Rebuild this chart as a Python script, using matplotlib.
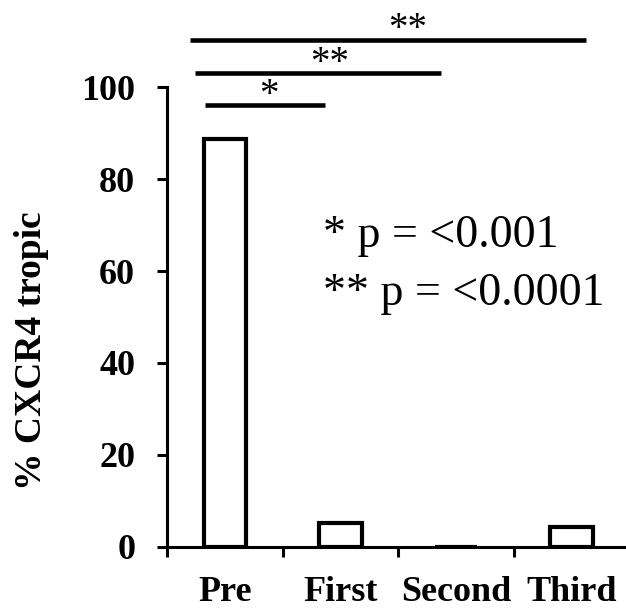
import numpy as np
import matplotlib.pyplot as plt

# data
groups = ['Pre', 'First', 'Second', 'Third']
pct_x4 = [88.8, 5.3, 0.0, 4.4]

# significance brackets: (x start, x end, y, label)
sig_x0 = [-0.17, -0.26, -0.30]
sig_x1 = [0.87, 1.87, 3.13]
sig_y = [96.0, 103.0, 110.3]
sig_lab = ['*', '**', '**']
sig_lab_x = [0.38, 0.91, 1.58]

plt.rcParams['font.family'] = ['Liberation Serif', 'DejaVu Serif']

fig = plt.figure(figsize=(6.26, 6.09), dpi=100)
ax = fig.add_axes([0.267, 0.102, 0.738, 0.755])

x = np.arange(len(groups))
ax.bar(x, pct_x4, width=0.37, color='white', edgecolor='black', linewidth=3.0, zorder=3)

for x0, x1, y in zip(sig_x0, sig_x1, sig_y):
    ax.plot([x0, x1], [y, y], color='black', lw=3.3, clip_on=False, solid_capstyle='butt')
for lx, y, s in zip(sig_lab_x, sig_y, sig_lab):
    ax.text(lx, y - 1.8, s, ha='center', va='bottom', fontsize=28, clip_on=False)

ax.text(0.338, 0.652, '* p = <0.001', transform=ax.transAxes, fontsize=33, ha='left', va='baseline')
ax.text(0.338, 0.526, '** p = <0.0001', transform=ax.transAxes, fontsize=33, ha='left', va='baseline')

ax.set_xlim(-0.5, 3.5)
ax.set_ylim(0, 100)
for s in ['top', 'right']:
    ax.spines[s].set_visible(False)
for s in ['left', 'bottom']:
    ax.spines[s].set_linewidth(2.2)

ax.set_yticks([0, 20, 40, 60, 80, 100])
ax.tick_params(axis='y', direction='out', length=7, width=2.2, pad=16, labelsize=26)
for t in ax.get_yticklabels():
    t.set_fontweight('bold')

ax.set_xticks(x)
ax.set_xticklabels(groups, fontsize=26, fontweight='bold')
ax.set_xticks([-0.5, 0.5, 1.5, 2.5], minor=True)
ax.tick_params(axis='x', which='major', length=0, pad=21)
ax.tick_params(axis='x', which='minor', direction='out', length=7, width=2.2)

ax.set_ylabel('% CXCR4 tropic', fontsize=27, fontweight='bold')
ax.yaxis.set_label_coords(-0.255, 0.426)

fig.savefig('out.png', dpi=100)
